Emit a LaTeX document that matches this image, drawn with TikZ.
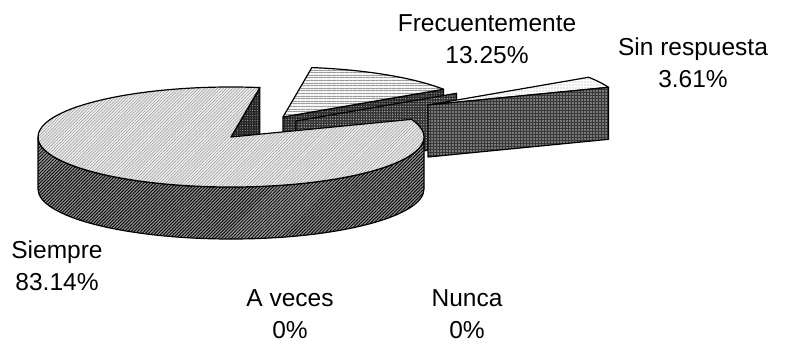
\documentclass[tikz,border=0pt]{standalone}
\usepackage{fontspec}
\setmainfont{Liberation Sans}
\usetikzlibrary{calc,patterns.meta}
\begin{document}
\begin{tikzpicture}[x=1pt,y=1pt,
  edge/.style={draw=black,line width=1.2pt,line join=round},
  siemtop/.style={edge,preaction={fill=gray!16},pattern={Lines[angle=45,distance=2.2pt,line width=0.5pt]},pattern color=gray!80},
  siemside/.style={edge,preaction={fill=gray!85},pattern={Lines[angle=45,distance=2.3pt,line width=0.85pt]},pattern color=black},
  notchface/.style={edge,preaction={fill=black!85},pattern={Dots[distance=2.5pt,radius=0.5pt]},pattern color=gray!60},
  frectop/.style={edge,preaction={fill=gray!8},pattern={Lines[angle=0,distance=2.6pt,line width=0.7pt]},pattern color=gray!80},
  frecface/.style={edge,preaction={fill=gray!35!black},pattern={Dots[distance=2.6pt,radius=0.6pt]},pattern color=gray!70},
  zeroslab/.style={edge,preaction={fill=gray!40!black},pattern={Dots[distance=2.6pt,radius=0.7pt]},pattern color=gray!65},
  sintop/.style={edge,preaction={fill=white},pattern={Dots[distance=3pt,radius=0.55pt]},pattern color=gray!80},
  sinface/.style={edge,preaction={fill=black!78},pattern={Dots[distance=3pt,radius=0.9pt]},pattern color=gray!55},
  lbl/.style={align=center,anchor=base,inner sep=0pt,font=\fontsize{24.5}{32}\selectfont}
]
\fill[white] (0,0) rectangle (786,-343);
\useasboundingbox (0,0) rectangle (786,-343);

% centres of the slices
\coordinate (C0) at (231,-137);   % Siempre
\coordinate (C1) at (283,-117);   % Frecuentemente
\coordinate (C2) at (296,-121);   % zero slices
\coordinate (C3) at (428,-105);   % Sin respuesta

% ---- Frecuentemente (exploded) ----
\path[frecface] (C1) -- ++(33.7:193pt and 50pt) -- ++(0,-52) -- ($(C1)+(0,-52)$) -- cycle;
\path[frectop] (C1) -- ++(33.7:193pt and 50pt)
   arc[start angle=33.7,end angle=81.4,x radius=193pt,y radius=50pt] -- cycle;

% ---- zero slices (A veces, Nunca) ----
\path[zeroslab] (C2) -- ++(33.7:193pt and 50pt) -- ++(0,-52) -- ($(C2)+(0,-52)$) -- cycle;

% ---- Sin respuesta (exploded) ----
\path[sintop] (C3) -- ++(20.7:193pt and 50pt)
   arc[start angle=20.7,end angle=33.7,x radius=193pt,y radius=50pt] -- cycle;
\path[sinface] (C3) -- ++(20.7:193pt and 50pt) -- ++(0,-52) -- ($(C3)+(0,-52)$) -- cycle;

% ---- Siempre ----
\path[notchface] (C0) -- ++(81.4:193pt and 50pt) -- ++(0,-52) -- ($(C0)+(0,-52)$) -- cycle;
\path[siemside] (C0) ++(180:193pt and 50pt)
   arc[start angle=180,end angle=360,x radius=193pt,y radius=50pt] -- ++(0,-52)
   arc[start angle=360,end angle=180,x radius=193pt,y radius=50pt] -- cycle;
\path[siemtop] (C0) -- ++(81.4:193pt and 50pt)
   arc[start angle=81.4,end angle=380.7,x radius=193pt,y radius=50pt] -- cycle;

% ---- labels (anchor = baseline of the last line) ----
\node[lbl] (lfrec) at (487,-63) {Frecuentemente\\13.25\%};
\node[lbl] (lsin) at (693,-87) {Sin respuesta\\3.61\%};
\node[lbl] (lsiem) at (57,-290) {Siempre\\83.14\%};
\node[lbl] (lave) at (290,-338) {A veces\\0\%};
\node[lbl] (lnun) at (467,-338) {Nunca\\0\%};
\end{tikzpicture}
\end{document}
